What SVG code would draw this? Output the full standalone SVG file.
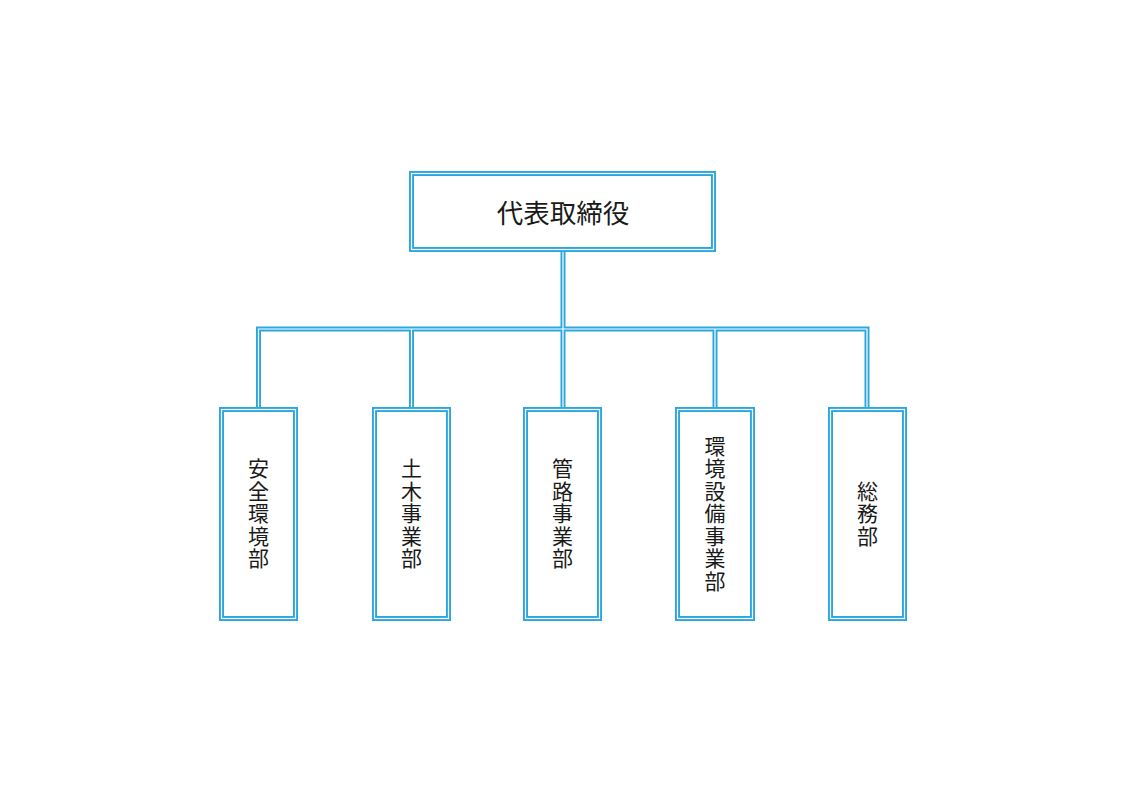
<svg xmlns="http://www.w3.org/2000/svg" width="1131" height="800" viewBox="0 0 1131 800">
<style>
.b{fill:none;stroke:#2aa7df;stroke-width:5}
.w{fill:none;stroke:#ffffff;stroke-width:1.2}
.t{font-family:"Noto Sans CJK JP","Noto Sans CJK SC",sans-serif;fill:#1a1a1a;text-anchor:middle;dominant-baseline:central}
.v{font-family:"Noto Sans CJK JP","Noto Sans CJK SC",sans-serif;fill:#1a1a1a;text-anchor:middle;writing-mode:vertical-rl;font-size:21px;letter-spacing:1.5px}
</style>
<rect width="1131" height="800" fill="#ffffff"/>
<g id="connectors">
<path class="b" d="M563 252 V329 M258.5 407 V329 H867 V407 M411.5 329 V407 M563 329 V407 M715 329 V407"/>
<path class="w" d="M563 252 V329 M258.5 407 V329 H867 V407 M411.5 329 V407 M563 329 V407 M715 329 V407"/>
</g>
<g id="ceo">
<rect class="b" x="411.5" y="173.5" width="302" height="76" fill="#fff"/>
<rect class="w" x="411.5" y="173.5" width="302" height="76"/>
<text class="t" x="563" y="211" font-size="26.5">代表取締役</text>
</g>
<g id="anzen">
<rect class="b" x="221.5" y="409.5" width="74" height="209"/>
<rect class="w" x="221.5" y="409.5" width="74" height="209"/>
<text class="v" x="258.5" y="514">安全環境部</text>
</g>
<g id="doboku">
<rect class="b" x="374.5" y="409.5" width="74" height="209"/>
<rect class="w" x="374.5" y="409.5" width="74" height="209"/>
<text class="v" x="411.5" y="514">土木事業部</text>
</g>
<g id="kanro">
<rect class="b" x="525.5" y="409.5" width="74" height="209"/>
<rect class="w" x="525.5" y="409.5" width="74" height="209"/>
<text class="v" x="562.5" y="514">管路事業部</text>
</g>
<g id="kankyo">
<rect class="b" x="677.5" y="409.5" width="75" height="209"/>
<rect class="w" x="677.5" y="409.5" width="75" height="209"/>
<text class="v" x="715" y="514">環境設備事業部</text>
</g>
<g id="somu">
<rect class="b" x="830.5" y="409.5" width="74" height="209"/>
<rect class="w" x="830.5" y="409.5" width="74" height="209"/>
<text class="v" x="867.5" y="514">総務部</text>
</g>
</svg>
